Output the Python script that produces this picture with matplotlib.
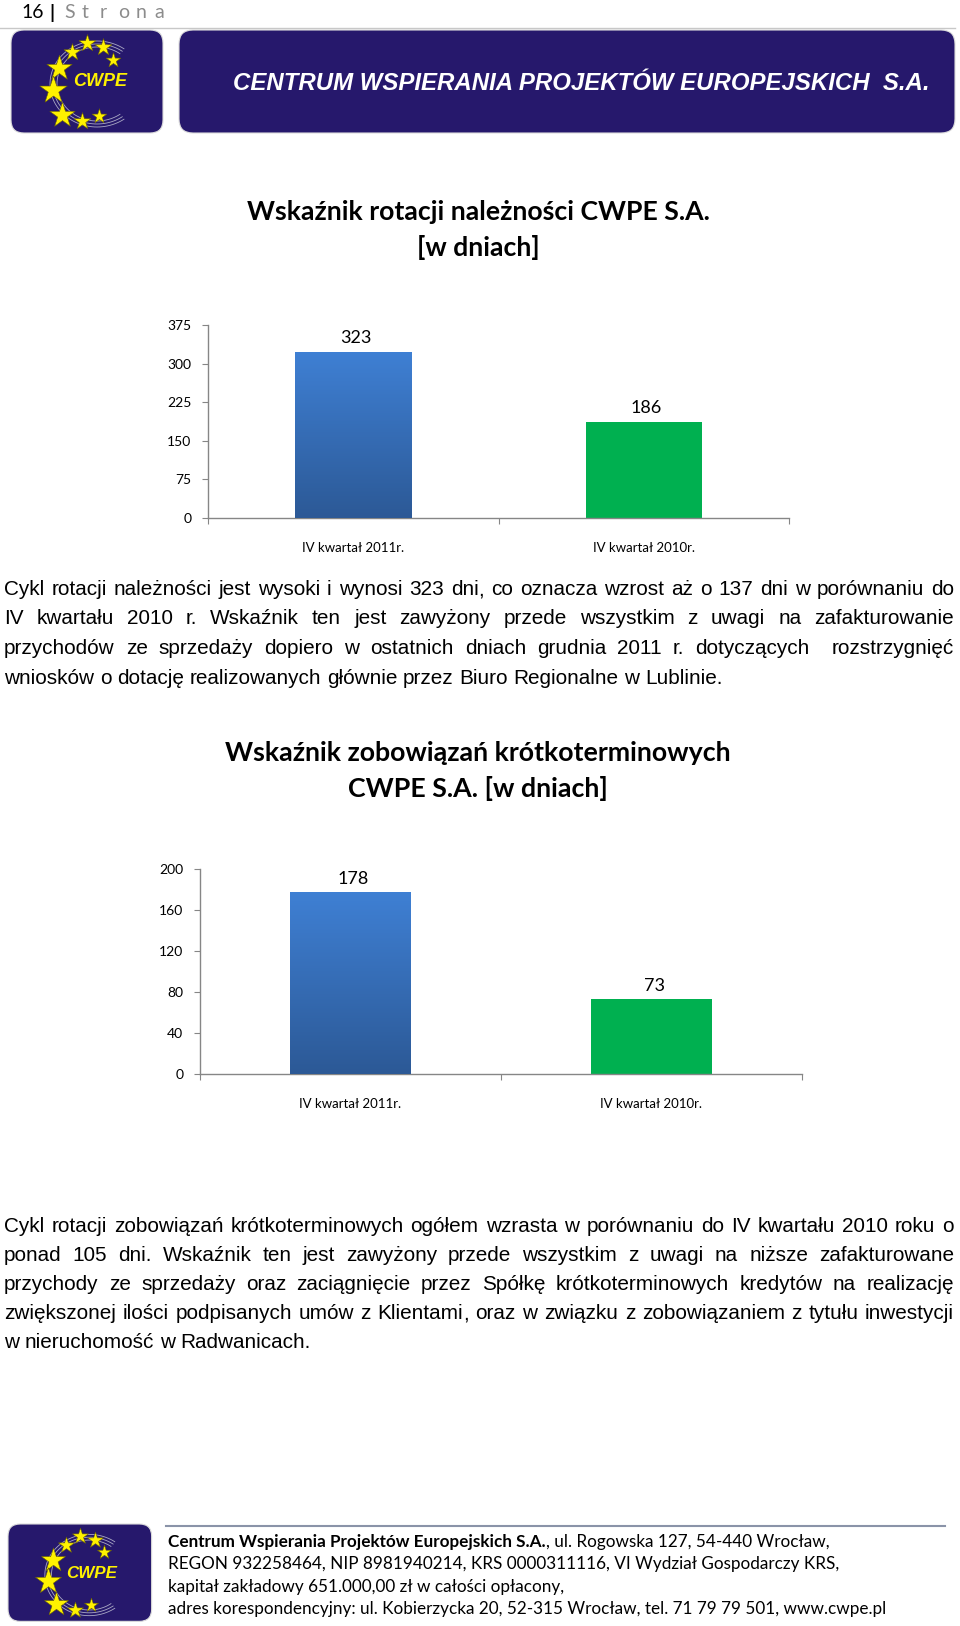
import matplotlib
matplotlib.use('Agg')
import matplotlib.pyplot as plt
import numpy as np
from matplotlib.patches import FancyBboxPatch
from matplotlib.colors import LinearSegmentedColormap

# ---------------- data ----------------
categories = ['IV kwartał 2011r.', 'IV kwartał 2010r.']
rot_values = [323, 186]
rot_ticks = [0, 75, 150, 225, 300, 375]
zob_values = [178, 73]
zob_ticks = [0, 40, 80, 120, 160, 200]

title1 = ['Wskaźnik rotacji należności CWPE S.A.', '[w dniach]']
title2 = ['Wskaźnik zobowiązań krótkoterminowych', 'CWPE S.A. [w dniach]']

para1 = [
    'Cykl rotacji należności jest wysoki i wynosi 323 dni, co oznacza wzrost aż o 137 dni w porównaniu do',
    'IV kwartału 2010 r. Wskaźnik ten jest zawyżony przede wszystkim z uwagi na zafakturowanie',
    'przychodów ze sprzedaży dopiero w ostatnich dniach grudnia 2011 r. dotyczących  rozstrzygnięć',
    'wniosków o dotację realizowanych głównie przez Biuro Regionalne w Lublinie.',
]
para2 = [
    'Cykl rotacji zobowiązań krótkoterminowych ogółem wzrasta w porównaniu do IV kwartału 2010 roku o',
    'ponad 105 dni. Wskaźnik ten jest zawyżony przede wszystkim z uwagi na niższe zafakturowane',
    'przychody ze sprzedaży oraz zaciągnięcie przez Spółkę krótkoterminowych kredytów na realizację',
    'zwiększonej ilości podpisanych umów z Klientami, oraz w związku z zobowiązaniem z tytułu inwestycji',
    'w nieruchomość w Radwanicach.',
]
footer_bold = 'Centrum Wspierania Projektów Europejskich S.A.'
footer_lines = [
    ', ul. Rogowska 127, 54-440 Wrocław,',
    'REGON 932258464, NIP 8981940214, KRS 0000311116, VI Wydział Gospodarczy KRS,',
    'kapitał zakładowy 651.000,00 zł w całości opłacony,',
    'adres korespondencyjny: ul. Kobierzycka 20, 52-315 Wrocław, tel. 71 79 79 501, www.cwpe.pl',
]
banner_text = 'CENTRUM WSPIERANIA PROJEKTÓW EUROPEJSKICH  S.A.'

# ---------------- figure ----------------
W, H = 960, 1626
fig = plt.figure(figsize=(9.6, 16.26), dpi=100)
fig.patch.set_facecolor('white')
ov = fig.add_axes([0, 0, 1, 1])
ov.set_xlim(0, W)
ov.set_ylim(H, 0)
ov.axis('off')
R = fig.canvas.get_renderer()

CAL = ['Lato', 'DejaVu Sans']
BODY = ['Liberation Sans']


def tw(s, **kw):
    t = ov.text(0, 0, s, **kw)
    w = t.get_window_extent(R).width
    t.remove()
    return w


def fit_size(s, width, **kw):
    return 20 * width / tw(s, fontsize=20, **kw)


# ---------- header ----------
hs = 14
ov.text(21, 13, '16', fontsize=hs, family=CAL, ha='left', va='center', color='black')
ov.text(49, 13, '|', fontsize=hs, family=CAL, fontweight='bold', ha='left', va='center', color='black')
for i, ch in enumerate('Strona'):
    ov.text(64 + i * 18, 13, ch, fontsize=hs, family=CAL, ha='left', va='center', color='#8c8c8c')
ov.plot([0, 955], [28, 28], color='#c8c8c8', lw=1)

NAVY = '#26186c'


def logo(ox, oy, sc):
    box = FancyBboxPatch((ox, oy), 152 * sc, 103 * sc,
                         boxstyle='round,pad=0,rounding_size=%f' % (13 * sc),
                         fc=NAVY, ec='#dcdcdc', lw=0.8)
    ov.add_patch(box)
    cx, cy = ox + 86 * sc, oy + 54 * sc
    for k, (rx, ry) in enumerate([(44, 40), (40, 37), (47, 43)]):
        t = np.linspace(np.radians(55), np.radians(305), 80)
        ov.plot(cx + rx * sc * np.cos(t), cy - ry * sc * np.sin(t),
                color='#b9b9cf', lw=0.6, alpha=0.9)
    stars = [(61, 22, 8), (76, 13, 8), (92, 17, 8), (102, 30, 7), (48, 38, 12),
             (42, 60, 13), (51, 85, 12), (71, 91, 8), (88, 86, 7)]
    for dx, dy, r in stars:
        ov.scatter([ox + dx * sc], [oy + dy * sc], s=(r * sc * 1.6) ** 2, marker='*',
                   c='#fff200', edgecolors='#6b6200', linewidths=0.4, zorder=5)
    ov.text(ox + 89 * sc, oy + 52 * sc, 'CWPE', fontsize=13 * sc, fontweight='bold',
            style='italic', family=BODY, color='#fff200', ha='center', va='center', zorder=6)


logo(11, 30, 1.0)
rb = FancyBboxPatch((179, 30), 776, 103, boxstyle='round,pad=0,rounding_size=14',
                    fc=NAVY, ec='#dcdcdc', lw=0.8)
ov.add_patch(rb)
bs = fit_size(banner_text, 694, family=BODY, fontweight='bold', style='italic')
ov.text(233, 83, banner_text, fontsize=bs, family=BODY, fontweight='bold', style='italic',
        color='white', ha='left', va='center')

# ---------- chart titles ----------
ts1 = fit_size(title1[0], 462, family=CAL, fontweight='bold')
ov.text(478, 212, title1[0], fontsize=ts1, family=CAL, fontweight='bold', ha='center', va='center')
ov.text(478, 247, title1[1], fontsize=ts1, family=CAL, fontweight='bold', ha='center', va='center')
ts2 = fit_size(title2[0], 507, family=CAL, fontweight='bold')
ov.text(478, 753, title2[0], fontsize=ts2, family=CAL, fontweight='bold', ha='center', va='center')
ov.text(478, 788, title2[1], fontsize=ts2, family=CAL, fontweight='bold', ha='center', va='center')

# ---------- charts ----------
blue_cmap = LinearSegmentedColormap.from_list('b', ['#2c5996', '#3f80d4'])
GREEN = '#00b050'
AXC = '#868686'


def bar_chart(px_left, px_right, px_bottom, px_top, values, ticks, label_off_px):
    ax = fig.add_axes([px_left / W, 1 - px_bottom / H, (px_right - px_left) / W,
                       (px_bottom - px_top) / H])
    ax.patch.set_alpha(0)
    x = np.arange(len(values))
    bars = ax.bar(x, values, width=0.4, color=['#3a74c2', GREEN], zorder=2)
    grad = np.linspace(0, 1, 256).reshape(-1, 1)
    b0 = bars[0]
    im = ax.imshow(grad, extent=[b0.get_x(), b0.get_x() + b0.get_width(), 0, b0.get_height()],
                   origin='lower', aspect='auto', cmap=blue_cmap, zorder=3)
    im.set_clip_path(b0)
    ax.set_xlim(-0.5, 1.5)
    ax.set_ylim(ticks[0], ticks[-1])
    for spine in ['top', 'right']:
        ax.spines[spine].set_visible(False)
    for spine in ['left', 'bottom']:
        ax.spines[spine].set_color(AXC)
        ax.spines[spine].set_linewidth(1)
    ax.set_yticks(ticks)
    ax.set_yticklabels([str(t) for t in ticks], family=CAL, fontsize=10)
    ax.tick_params(axis='y', direction='out', length=4, color=AXC, pad=8)
    ax.set_xticks([-0.5, 0.5, 1.5])
    ax.set_xticklabels([])
    ax.tick_params(axis='x', which='major', direction='out', length=4, color=AXC)
    ax.set_xticks(x, minor=True)
    ax.set_xticklabels(categories, minor=True, family=CAL, fontsize=9.5)
    ax.tick_params(axis='x', which='minor', length=0, pad=17)
    for b, v in zip(bars, values):
        ax.annotate(str(v), (b.get_x() + b.get_width() / 2, v), xytext=(2, label_off_px * 0.72),
                    textcoords='offset points', ha='center', va='center',
                    family=CAL, fontsize=13)
    return ax


bar_chart(208, 789, 518, 325, rot_values, rot_ticks, 14)
bar_chart(200, 802, 1074, 869, zob_values, zob_ticks, 13)

# ---------- paragraphs ----------
X0, X1 = 4, 954
size_last = fit_size(para1[-1], 719, family=BODY)
bsz = size_last
for ln in para1[:-1] + para2[:-1]:
    bsz = min(bsz, fit_size(ln, 940, family=BODY))
space_w = tw('a a', fontsize=bsz, family=BODY) - tw('aa', fontsize=bsz, family=BODY)
comma_w = tw('a,', fontsize=bsz, family=BODY) - tw('a', fontsize=bsz, family=BODY)


def put_word(xx, base, w):
    # trailing comma drawn separately so every word shares one baseline
    if w.endswith(',') and len(w) > 1:
        core = w[:-1]
        ov.text(xx, base, core, fontsize=bsz, family=BODY, ha='left', va='baseline', color='black')
        wc = tw(core, fontsize=bsz, family=BODY)
        ov.text(xx + wc, base, ',', fontsize=bsz, family=BODY, ha='left', va='baseline', color='black')
    else:
        ov.text(xx, base, w, fontsize=bsz, family=BODY, ha='left', va='baseline', color='black')


def word_w(w):
    if not w:
        return 0.0
    if w.endswith(',') and len(w) > 1:
        return tw(w[:-1], fontsize=bsz, family=BODY) + comma_w
    return tw(w, fontsize=bsz, family=BODY)


def paragraph(lines, ys):
    for i, (line, y) in enumerate(zip(lines, ys)):
        words = line.split(' ')
        ws = [word_w(w) for w in words]
        if i < len(lines) - 1:
            gap = (X1 - X0 - sum(ws)) / (len(words) - 1)
        else:
            gap = space_w
        xx = X0
        base = round(y + 0.36 * bsz * 100 / 72)
        for w, wd in zip(words, ws):
            if w:
                put_word(xx, base, w)
            xx += wd + gap


paragraph(para1, [588, 617, 647, 677])
paragraph(para2, [1225, 1254, 1283, 1312, 1341])

# ---------- footer ----------
ov.plot([166, 945], [1526, 1526], color='#8a93a8', lw=1.5)
logo(8, 1524, 0.945)
fs = fit_size(footer_lines[-1], 719, family=CAL)
FX = 168
fy = [1542, 1564, 1587, 1609]
wb = tw(footer_bold, fontsize=fs, family=CAL, fontweight='bold')
ov.text(FX, fy[0], footer_bold, fontsize=fs, family=CAL, fontweight='bold', ha='left', va='center')
ov.text(FX + wb, fy[0], footer_lines[0], fontsize=fs, family=CAL, ha='left', va='center')
for ln, y in zip(footer_lines[1:], fy[1:]):
    ov.text(FX, y, ln, fontsize=fs, family=CAL, ha='left', va='center')

fig.savefig('out.png', dpi=100)
